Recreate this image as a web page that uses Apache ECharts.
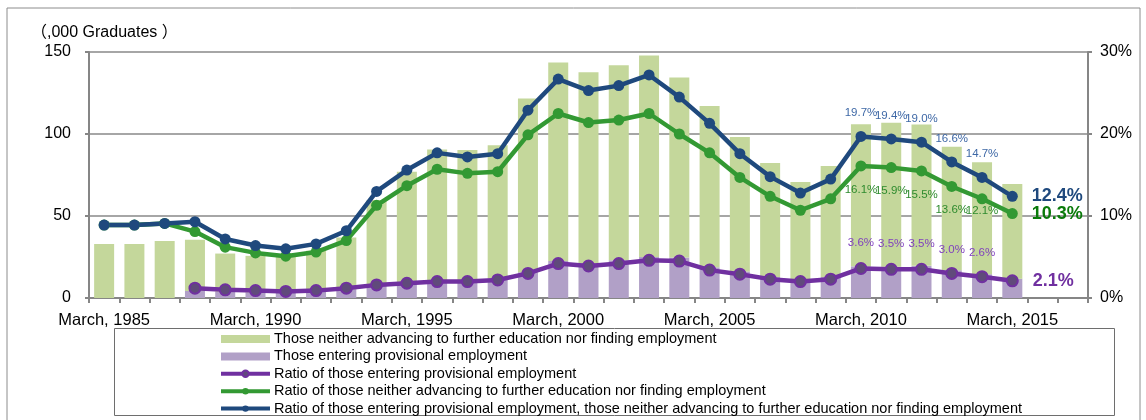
<!DOCTYPE html>
<html>
<head>
<meta charset="utf-8">
<script src="https://cdn.jsdelivr.net/npm/echarts@6/dist/echarts.min.js"></script>
<style>
html,body{margin:0;padding:0;background:#fff;}
#chart{width:1146px;height:420px;}
</style>
</head>
<body>
<div id="chart"></div>
<script>
const categories = ['March, 1985','March, 1986','March, 1987','March, 1988','March, 1989','March, 1990','March, 1991','March, 1992','March, 1993','March, 1994','March, 1995','March, 1996','March, 1997','March, 1998','March, 1999','March, 2000','March, 2001','March, 2002','March, 2003','March, 2004','March, 2005','March, 2006','March, 2007','March, 2008','March, 2009','March, 2010','March, 2011','March, 2012','March, 2013','March, 2014','March, 2015','March, 2016','March, 2017'];
// thousands of graduates
const neitherCount = [33.0,33.0,34.7,31.2,23.3,22.3,22.1,24.9,31.5,52.4,68.1,80.4,79.7,81.5,105.9,121.0,116.4,118.9,122.8,109.7,98.3,81.9,69.5,59.7,67.7,86.7,87.7,86.2,75.3,68.2,57.7];
const provisionalCount = [null,null,null,4.3,3.8,3.4,3.4,3.9,5.4,7.4,8.9,10.2,10.5,11.7,15.7,22.6,21.2,23.0,25.0,24.7,18.7,16.2,12.8,11.0,12.8,19.3,19.1,19.6,16.9,14.5,11.8];
// percent
const provisionalRatio = [null,null,null,1.2,1.0,0.9,0.8,0.9,1.2,1.6,1.8,2.0,2.0,2.2,3.0,4.2,3.9,4.2,4.6,4.5,3.4,2.9,2.3,2.0,2.3,3.6,3.5,3.5,3.0,2.6,2.1];
const neitherRatio = [8.9,8.9,9.1,8.1,6.2,5.5,5.1,5.6,7.0,11.3,13.7,15.7,15.2,15.4,19.9,22.5,21.4,21.7,22.5,20.0,17.7,14.7,12.4,10.7,12.1,16.1,15.9,15.5,13.6,12.1,10.3];
const combinedRatio = [8.9,8.9,9.1,9.3,7.2,6.4,6.0,6.6,8.2,13.0,15.6,17.7,17.2,17.6,22.9,26.7,25.3,25.9,27.2,24.5,21.3,17.6,14.8,12.8,14.5,19.7,19.4,19.0,16.6,14.7,12.4];
const leftTicks = [0, 50, 100, 150];
const rightTicks = [0, 10, 20, 30];

const names = {
  neither: 'Those neither advancing to further education nor finding employment',
  provisional: 'Those entering provisional employment',
  rProv: 'Ratio of those entering provisional employment',
  rNeither: 'Ratio of those neither advancing to further education nor finding employment',
  rComb: 'Ratio of those entering provisional employment, those neither advancing to further education nor finding employment'
};

const FONT = 'Arial, "Liberation Sans", Helvetica, sans-serif';
const pct = p => p.value.toFixed(1) + '%';

function labelled(arr, small, big) {
  return arr.map((v, i) => {
    if (v == null) return v;
    if (i >= 25 && i <= 29) return { value: v, label: small(i) };
    if (i === 30) return { value: v, label: big };
    return v;
  });
}

const chart = echarts.init(document.getElementById('chart'), null, { renderer: 'canvas' });

const option = {
  animation: false,
  backgroundColor: '#fff',
  textStyle: { fontFamily: FONT },
  grid: { left: 89, right: 58, top: 52, bottom: 122, containLabel: false },
  graphic: [
    { type: 'rect', shape: { x: 7, y: 8, width: 1133, height: 430 }, style: { fill: 'none', stroke: '#8c8c8c', lineWidth: 1 }, z: -1 },
    { type: 'rect', shape: { x: 114.5, y: 328.5, width: 1000, height: 87 }, style: { fill: 'none', stroke: '#6e6e6e', lineWidth: 1 }, z: -1 },
    { type: 'text', left: 31, top: 25, style: { text: '（,000 Graduates ）', font: '16px Arial, "Liberation Sans", "Noto Sans CJK JP", sans-serif', fill: '#000' } }
  ],
  legend: {
    orient: 'vertical',
    left: 219,
    top: 331.5,
    height: 120,
    padding: 0,
    itemWidth: 49,
    itemHeight: 8,
    itemGap: 2.4,
    textStyle: { fontFamily: FONT, fontSize: 14.5, lineHeight: 15, color: '#000', padding: [0,0,0,-1] },
    data: [
      { name: names.neither, icon: 'rect' },
      { name: names.provisional, icon: 'rect' },
      { name: names.rProv, lineStyle: { width: 4 } },
      { name: names.rNeither, lineStyle: { width: 4 } },
      { name: names.rComb, lineStyle: { width: 4 } }
    ]
  },
  xAxis: {
    type: 'category',
    data: categories,
    boundaryGap: true,
    axisLine: { lineStyle: { color: '#868686', width: 2 } },
    axisTick: { show: true, interval: 0, length: 5, lineStyle: { color: '#868686', width: 2 } },
    axisLabel: { interval: 4, fontSize: 16.5, color: '#000', margin: 14, fontFamily: FONT }
  },
  yAxis: [
    {
      type: 'value', min: leftTicks[0], max: leftTicks[leftTicks.length - 1], interval: 50,
      axisLine: { show: true, lineStyle: { color: '#868686', width: 2 } },
      axisTick: { show: true, length: 4, lineStyle: { color: '#868686', width: 2 } },
      splitLine: { show: true, lineStyle: { color: '#a6a6a6', width: 2 } },
      axisLabel: { fontSize: 16, color: '#000', margin: 18, fontFamily: FONT }
    },
    {
      type: 'value', min: rightTicks[0], max: rightTicks[rightTicks.length - 1], interval: 10,
      position: 'right',
      axisLine: { show: true, lineStyle: { color: '#868686', width: 2 } },
      axisTick: { show: true, length: 4, lineStyle: { color: '#868686', width: 2 } },
      splitLine: { show: false },
      axisLabel: { fontSize: 16, color: '#000', margin: 12, formatter: '{value}%', fontFamily: FONT }
    }
  ],
  series: [
    {
      name: names.provisional, type: 'bar', stack: 'cnt', yAxisIndex: 0,
      data: provisionalCount, barWidth: 20,
      itemStyle: { color: '#b1a0c7' }
    },
    {
      name: names.neither, type: 'bar', stack: 'cnt', yAxisIndex: 0,
      data: neitherCount, barWidth: 20,
      itemStyle: { color: '#c4d79b' }
    },
    {
      name: names.rProv, type: 'line', yAxisIndex: 1,
      symbol: 'circle', symbolSize: 11,
      lineStyle: { color: '#7030a0', width: 4.5 },
      itemStyle: { color: '#604a7b', borderColor: '#7030a0', borderWidth: 2 },
      label: { show: false },
      data: labelled(provisionalRatio,
        i => ({ show: true, position: 'top', distance: i >= 28 ? 11 : 13, formatter: pct, color: '#7f3fbf', fontSize: 11.5, fontFamily: FONT }),
        { show: true, position: 'right', distance: 14, formatter: pct, color: '#7030a0', fontSize: 18, fontWeight: 'bold', fontFamily: FONT })
    },
    {
      name: names.rNeither, type: 'line', yAxisIndex: 1,
      symbol: 'circle', symbolSize: 11,
      lineStyle: { color: '#339933', width: 4.5 },
      itemStyle: { color: '#339933' },
      label: { show: false },
      data: labelled(neitherRatio,
        i => ({ show: true, position: 'bottom', distance: i === 29 ? 1 : 12, formatter: pct, color: '#2e8b2e', fontSize: 11.5, fontFamily: FONT }),
        { show: true, position: 'right', distance: 14, formatter: pct, color: '#0a7a0a', fontSize: 18, fontWeight: 'bold', fontFamily: FONT })
    },
    {
      name: names.rComb, type: 'line', yAxisIndex: 1,
      symbol: 'circle', symbolSize: 11,
      lineStyle: { color: '#1f497d', width: 4.5 },
      itemStyle: { color: '#1f497d' },
      label: { show: false },
      data: labelled(combinedRatio,
        i => ({ show: true, position: 'top', distance: 12, formatter: pct, color: '#3e68a6', fontSize: 11.5, fontFamily: FONT }),
        { show: true, position: 'right', distance: 14, formatter: pct, color: '#1f497d', fontSize: 18, fontWeight: 'bold', fontFamily: FONT })
    }
  ]
};
chart.setOption(option);
</script>
</body>
</html>
